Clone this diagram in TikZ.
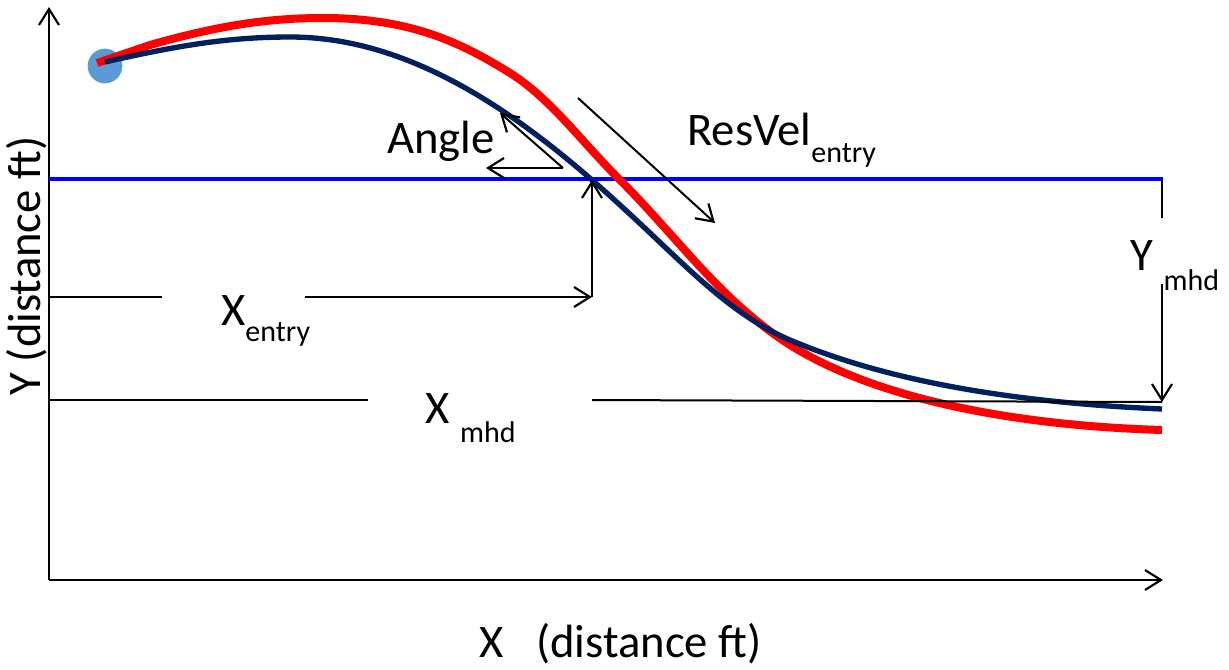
\documentclass[tikz,border=0pt]{standalone}
\usepackage{fontspec}
\setmainfont{Carlito}
\usetikzlibrary{arrows.meta}
\definecolor{navyc}{RGB}{0,32,96}
\definecolor{ballc}{RGB}{91,155,213}
\begin{document}
\begin{tikzpicture}[x=0.75pt,y=-0.75pt,
  barb/.style={-{Straight Barb[length=12pt,width=15pt,line width=1.6pt]}},
  axisline/.style={line width=1.9pt,barb},
  dimline/.style={line width=1.5pt},
  lbl/.style={inner sep=0pt,anchor=base west,font=\fontsize{35}{42}\selectfont}]
\useasboundingbox (0,0) rectangle (1229,669);
\newcommand{\subtxt}[2]{\raisebox{#1}{\fontsize{22.5}{27}\selectfont #2}}
% coordinates
\coordinate (O) at (49,580);
\coordinate (Ytop) at (49,7);
\coordinate (Xend) at (1163,580);
\coordinate (BlL) at (49,179);
\coordinate (BlR) at (1163,179);
\coordinate (EntryPt) at (592,180);
\coordinate (XeA) at (49,297);
\coordinate (XeB) at (162,297);
\coordinate (XeC) at (305,297);
\coordinate (XeD) at (592,297);
\coordinate (XmA) at (49,400);
\coordinate (XmB) at (368,400);
\coordinate (XmC) at (592,400);
\coordinate (XmD) at (1162,402);
\coordinate (YmA) at (1162,179);
\coordinate (YmB) at (1162,218);
\coordinate (YmC) at (1162,284);
\coordinate (YmD) at (1162,402);
\coordinate (AngO) at (563,168);
\coordinate (AngA) at (500,113);
\coordinate (AngB) at (486,168);
\coordinate (RvA) at (578,98);
\coordinate (RvB) at (715,223);
% ball
\node[circle,fill=ballc,minimum size=26pt,inner sep=0pt] (ball) at (105,66) {};
% axes
\draw[axisline] (O) -- (Ytop);
\draw[axisline] (O) -- (Xend);
% blue line
\draw[blue,line width=2.6pt] (BlL) -- (BlR);
% curves
\draw[red,line width=6pt] (97,63) -- (150,45)
  .. controls (220,25) and (270,18) .. (323,18)
  .. controls (410,18) and (460,42) .. (510,73)
  .. controls (550,98) and (580,140) .. (620,180)
  .. controls (680,240) and (720,300) .. (790,345)
  .. controls (870,395) and (1000,425) .. (1162,430);
\draw[navyc,line width=4pt] (105,62)
  .. controls (180,45) and (230,37) .. (290,37)
  .. controls (400,37) and (500,100) .. (592,180)
  .. controls (675,252) and (720,310) .. (790,340)
  .. controls (880,378) and (1000,402) .. (1162,409);
% dimension lines
\draw[dimline] (XeA) -- (XeB);
\draw[dimline,barb] (XeC) -- (XeD);
\draw[dimline,barb] (XeD) -- (EntryPt);
\draw[dimline] (XmA) -- (XmB);
\draw[dimline] (XmC) -- (XmD);
\draw[dimline] (YmA) -- (YmB);
\draw[dimline,barb] (YmC) -- (YmD);
\draw[dimline,barb] (AngO) -- (AngA);
\draw[dimline,barb] (AngO) -- (AngB);
\draw[dimline,barb] (RvA) -- (RvB);
% labels
\node[lbl] (angle) at (387,153) {Angle};
\node[lbl] (resvel) at (687,145) {ResVel\subtxt{-12.75pt}{entry}};
\node[lbl] (xentry) at (221,325) {X\subtxt{-12pt}{entry}};
\node[lbl] (xmhd) at (425,423) {X \subtxt{-14.25pt}{mhd}};
\node[lbl] (ymhd) at (1130,270) {Y \subtxt{-15pt}{mhd}};
\node[lbl] (xlab) at (479,657) {X\hspace{0.7em}(distance ft)};
\node[inner sep=0pt,font=\fontsize{35}{42}\selectfont,rotate=90] (ylab) at (27,266) {Y (distance ft)};
\end{tikzpicture}
\end{document}
